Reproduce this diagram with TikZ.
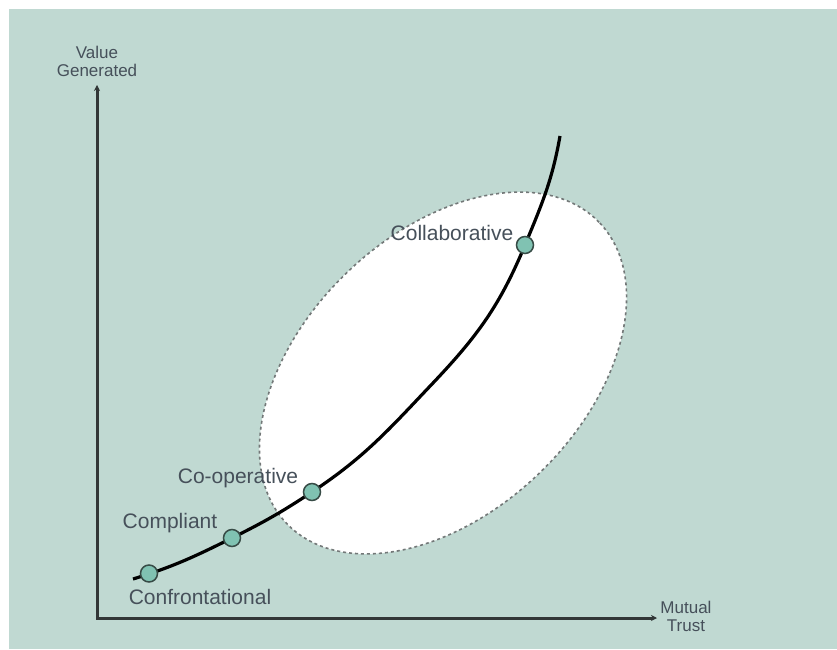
\documentclass[tikz,border=0pt]{standalone}
\usepackage{fontspec}
\setmainfont{Liberation Sans}
\usetikzlibrary{arrows.meta}
\definecolor{bg}{RGB}{192,217,210}
\definecolor{dotfill}{RGB}{128,194,178}
\definecolor{dotline}{RGB}{55,75,70}
\definecolor{txt}{RGB}{70,80,90}
\definecolor{axiscol}{RGB}{50,55,55}
\definecolor{ellcol}{RGB}{115,120,120}
\begin{document}
\begin{tikzpicture}[x=1pt,y=1pt,
  dotnode/.style={circle,fill=dotfill,draw=dotline,line width=1.5pt,minimum size=17pt,inner sep=0pt},
  lbl/.style={text=txt,font=\fontsize{21}{25}\selectfont,inner sep=0pt},
  axlbl/.style={text=txt,font=\fontsize{17}{18}\selectfont,align=center,inner sep=0pt},
  axisline/.style={draw=axiscol,line width=3pt},
  zone/.style={draw=ellcol,fill=white,dash pattern=on 3pt off 3pt,line width=1.6pt},
  curveline/.style={draw=black,line width=3.2pt}]
\useasboundingbox (0,0) rectangle (837,649);
\fill[white] (0,0) rectangle (837,649);
\fill[bg] (9,0) rectangle (837,640);
% trust zone
\path[zone] (443,276) ellipse [x radius=217, y radius=139, rotate=44];
% axes
\coordinate (O) at (97,31);
\coordinate (Ytip) at (97,564);
\coordinate (Xtip) at (657,31);
\draw[axisline,{Stealth[length=6pt,width=6pt]}-{Stealth[length=6pt,width=6pt]}] (Ytip) -- (O) -- (Xtip);
\node[axlbl] (ylab) at (97,588) {Value\\Generated};
\node[axlbl] (xlab) at (686,33) {Mutual\\Trust};
% curve
\coordinate (c0) at (133,70);
\coordinate (c1) at (149,75.5);
\coordinate (c2) at (232,111);
\coordinate (c3) at (312,157);
\coordinate (c5) at (433,266);
\coordinate (c7) at (525,404);
\coordinate (c9) at (560,513);
\draw[curveline] (c0) to[out=17,in=206.5] (c2) to[out=26.5,in=213.5] (c3)
  to[out=33.5,in=226.5] (c5) to[out=46.5,in=247.5] (c7) to[out=67.5,in=260] (c9);
\node[dotnode] (d1) at (c1) {};
\node[dotnode] (d2) at (c2) {};
\node[dotnode] (d3) at (c3) {};
\node[dotnode] (d4) at (c7) {};
\node[lbl] (l1) at (200,52) {Confrontational};
\node[lbl] (l2) at (170,126) {Compliant};
\node[lbl] (l3) at (238,171) {Co-operative};
\node[lbl] (l4) at (452,416) {Collaborative};
\end{tikzpicture}
\end{document}
